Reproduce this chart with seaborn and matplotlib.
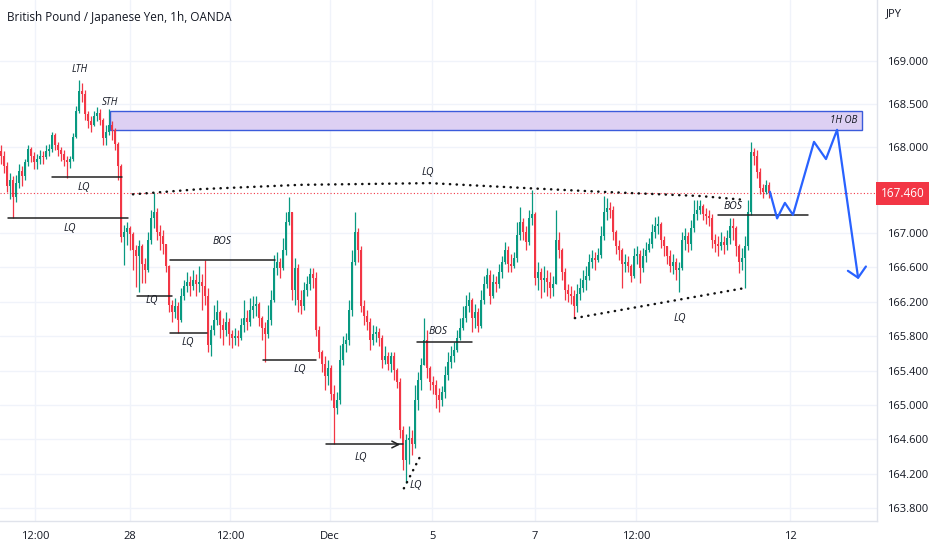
import numpy as np
import matplotlib.pyplot as plt
import matplotlib.transforms as mtransforms
import seaborn as sns

# GBP/JPY 1h candles (close / high / low), open = previous close
first_open = 167.95
close = [
    167.90, 167.78, 167.55, 167.62, 167.42, 167.58, 167.72, 167.66, 167.82, 167.98,
    167.90, 167.82, 167.86, 167.90, 167.88, 167.95, 167.98, 168.14, 168.02, 167.97,
    167.92, 167.85, 167.82, 167.86, 168.12, 168.42, 168.65, 168.62, 168.38, 168.30,
    168.26, 168.36, 168.40, 168.32, 168.10, 168.18, 168.26, 168.20, 168.04, 167.78,
    166.95,
    167.01, 167.06, 166.99, 166.80, 166.73, 166.85, 166.64, 166.57, 166.92, 167.17,
    167.24, 167.01, 166.97, 166.87, 166.62, 166.16, 166.08, 166.15, 165.99, 166.27,
    166.38, 166.43, 166.38, 166.45, 166.41, 166.43, 166.38, 166.27, 165.70, 165.87,
    165.99, 166.08, 165.93, 165.87, 165.97, 165.83, 165.78, 165.80, 165.78, 165.93,
    166.01, 165.97, 166.10, 166.15, 166.17, 166.01, 165.90, 165.83, 165.99, 166.22,
    166.59, 166.66, 166.59, 166.80, 167.13, 167.24, 166.34, 166.59, 166.22, 166.15,
    166.34, 166.41, 166.52, 166.48, 165.87, 165.62, 165.48, 165.34, 165.43, 165.13,
    164.97, 165.06, 165.52, 165.71, 165.76, 166.10, 166.66, 167.01, 166.80, 166.15,
    166.04, 165.97, 165.76, 165.83, 165.85, 165.78, 165.52, 165.57, 165.48, 165.57,
    165.41, 165.27, 164.71, 164.36, 164.59, 164.62, 164.55, 165.06, 165.29, 165.47,
    165.76, 165.43, 165.27, 165.23, 165.12, 165.06, 165.15, 165.35, 165.50, 165.57,
    165.64, 165.78, 165.90, 166.01, 166.15, 166.22, 166.01, 166.08, 165.92, 166.22,
    166.41, 166.51, 166.27, 166.43, 166.41, 166.55, 166.66, 166.80, 166.64, 166.62,
    166.71, 166.98, 167.13, 167.01, 166.90, 167.17, 167.22, 166.48, 166.55, 166.45,
    166.48, 166.43, 166.36, 166.41, 166.92, 166.80, 166.55, 166.34, 166.29, 166.27,
    166.15, 166.29, 166.36, 166.45, 166.50, 166.66, 166.71, 166.69, 166.74, 166.97,
    167.24, 167.29, 167.27, 167.01, 166.85, 166.80, 166.64, 166.66, 166.62, 166.50,
    166.73, 166.76, 166.59, 166.73, 166.80, 166.87, 167.01, 167.08, 167.10, 166.92,
    166.85, 166.73, 166.62, 166.66, 166.57, 166.59, 166.92, 166.97, 166.87, 167.06,
    167.22, 167.27, 167.31, 167.22, 167.20, 167.17, 166.92, 166.87, 166.85, 166.90,
    166.86, 166.94, 167.08, 167.06, 166.85, 166.66, 166.71, 166.85, 167.24, 167.94,
    167.90, 167.71, 167.52, 167.48, 167.56, 167.46,
]
high = [
    168.02, 167.95, 167.82, 167.70, 167.66, 167.68, 167.80, 167.78, 167.86, 168.02,
    168.00, 167.94, 167.92, 167.96, 167.95, 168.02, 168.04, 168.18, 168.16, 168.06,
    168.00, 167.96, 167.90, 167.90, 168.16, 168.48, 168.78, 168.75, 168.66, 168.42,
    168.36, 168.42, 168.46, 168.44, 168.34, 168.26, 168.44, 168.30, 168.22, 168.06,
    167.80,
    167.09, 167.13, 167.08, 167.01, 166.86, 166.92, 166.87, 166.71, 167.01, 167.27,
    167.47, 167.29, 167.09, 167.04, 166.87, 166.63, 166.22, 166.24, 166.20, 166.36,
    166.45, 166.55, 166.50, 166.57, 166.52, 166.62, 166.52, 166.69, 166.36, 165.93,
    166.16, 166.22, 166.10, 166.01, 166.08, 166.01, 165.87, 165.90, 165.87, 166.01,
    166.22, 166.10, 166.24, 166.27, 166.27, 166.20, 166.04, 165.97, 166.16, 166.34,
    166.74, 166.78, 166.71, 166.94, 167.24, 167.42, 167.22, 166.71, 166.64, 166.34,
    166.43, 166.50, 166.59, 166.59, 166.55, 165.92, 165.64, 165.57, 165.52, 165.47,
    165.23, 165.15, 165.70, 165.80, 165.84, 166.22, 166.80, 167.24, 167.06, 166.85,
    166.22, 166.10, 166.01, 165.93, 165.92, 165.90, 165.81, 165.69, 165.62, 165.62,
    165.62, 165.43, 165.31, 164.76, 164.66, 164.76, 164.71, 165.23, 165.38, 165.55,
    166.01, 165.87, 165.45, 165.34, 165.29, 165.20, 165.22, 165.45, 165.62, 165.69,
    165.73, 165.87, 166.01, 166.15, 166.28, 166.31, 166.24, 166.17, 166.13, 166.34,
    166.50, 166.59, 166.57, 166.52, 166.50, 166.64, 166.73, 166.90, 166.85, 166.76,
    166.78, 167.13, 167.30, 167.17, 167.08, 167.27, 167.50, 167.24, 166.66, 166.59,
    166.62, 166.57, 166.55, 166.50, 167.27, 167.01, 166.83, 166.59, 166.41, 166.38,
    166.34, 166.41, 166.48, 166.57, 166.62, 166.76, 166.80, 166.78, 166.83, 167.08,
    167.43, 167.41, 167.36, 167.31, 167.04, 166.92, 166.83, 166.76, 166.73, 166.64,
    166.83, 166.85, 166.80, 166.83, 166.90, 166.94, 167.10, 167.19, 167.20, 167.13,
    166.97, 166.85, 166.80, 166.76, 166.71, 166.66, 167.01, 167.06, 167.01, 167.15,
    167.38, 167.38, 167.38, 167.34, 167.29, 167.27, 167.22, 166.99, 166.97, 167.01,
    166.97, 167.04, 167.17, 167.17, 167.08, 166.87, 166.83, 166.97, 167.38, 168.06,
    167.99, 167.97, 167.76, 167.57, 167.62, 167.59,
]
low = [
    167.80, 167.70, 167.48, 167.40, 167.17, 167.36, 167.52, 167.55, 167.62, 167.78,
    167.82, 167.74, 167.74, 167.80, 167.80, 167.86, 167.90, 167.94, 167.96, 167.90,
    167.84, 167.78, 167.64, 167.76, 167.84, 168.10, 168.40, 168.52, 168.32, 168.22,
    168.18, 168.24, 168.30, 168.26, 168.02, 168.02, 168.14, 168.08, 167.96, 167.62,
    166.90,
    166.63, 166.86, 166.80, 166.57, 166.37, 166.31, 166.42, 166.42, 166.55, 166.87,
    167.06, 166.92, 166.80, 166.76, 166.55, 166.08, 165.97, 166.01, 165.84, 165.97,
    166.22, 166.31, 166.27, 166.34, 166.27, 166.31, 166.10, 166.16, 165.62, 165.57,
    165.81, 165.93, 165.78, 165.70, 165.80, 165.70, 165.66, 165.70, 165.69, 165.76,
    165.85, 165.87, 165.92, 166.01, 166.04, 165.92, 165.76, 165.50, 165.78, 165.93,
    166.20, 166.51, 166.48, 166.57, 166.74, 167.09, 166.22, 166.16, 166.08, 166.06,
    166.10, 166.27, 166.34, 166.36, 165.80, 165.55, 165.38, 165.17, 165.23, 165.06,
    164.54, 164.90, 165.01, 165.47, 165.62, 165.70, 166.04, 166.63, 166.66, 166.08,
    165.93, 165.87, 165.64, 165.70, 165.73, 165.69, 165.43, 165.48, 165.41, 165.38,
    165.29, 165.20, 164.62, 164.24, 164.09, 164.31, 164.42, 164.50, 164.94, 165.17,
    165.47, 165.31, 165.17, 165.13, 164.97, 164.92, 164.99, 165.08, 165.29, 165.43,
    165.50, 165.62, 165.76, 165.87, 165.97, 166.08, 165.85, 165.90, 165.85, 165.90,
    166.17, 166.36, 166.17, 166.24, 166.31, 166.36, 166.48, 166.64, 166.55, 166.55,
    166.59, 166.66, 166.92, 166.92, 166.80, 166.86, 167.09, 166.40, 166.34, 166.24,
    166.31, 166.27, 166.24, 166.27, 166.41, 166.71, 166.45, 166.22, 166.20, 166.17,
    166.01, 166.08, 166.22, 166.31, 166.34, 166.45, 166.59, 166.57, 166.66, 166.71,
    166.92, 167.15, 167.17, 166.92, 166.76, 166.69, 166.36, 166.55, 166.55, 166.43,
    166.48, 166.64, 166.42, 166.55, 166.66, 166.78, 166.83, 166.94, 166.99, 166.83,
    166.73, 166.64, 166.55, 166.52, 166.45, 166.31, 166.57, 166.80, 166.78, 166.80,
    167.01, 167.15, 167.22, 167.15, 167.10, 167.08, 166.83, 166.78, 166.73, 166.80,
    166.76, 166.80, 166.87, 166.92, 166.73, 166.54, 166.57, 166.36, 166.80, 167.21,
    167.79, 167.64, 167.45, 167.41, 167.45, 167.41,
]
assert len(close) == len(high) == len(low)

last_price = 167.46
x_tick_pos = [11.3, 43.0, 76.3, 109.7, 143.7, 178.0, 211.7, 263.0]
x_tick_labels = ["12:00", "28", "12:00", "Dec", "5", "7", "12:00", "12"]
y_ticks = [169.0, 168.5, 168.0, 167.0, 166.6, 166.2, 165.8, 165.4, 165.0, 164.6, 164.2, 163.8]

# marked levels: (start, end, price, label, label x, label y)
levels = [
    (17.0, 40.3, 167.65, "LQ", 27.7, 167.53),
    (2.3, 42.3, 167.17, "LQ", 23.0, 167.05),
    (45.3, 57.0, 166.27, "LQ", 50.3, 166.21),
    (56.3, 91.3, 166.69, "BOS", 73.7, 166.90),
    (56.3, 68.7, 165.84, "LQ", 62.3, 165.73),
    (87.3, 105.0, 165.52, "LQ", 99.7, 165.41),
    (108.3, 134.0, 164.54, "LQ", 120.0, 164.39),
    (138.7, 157.0, 165.73, "BOS", 145.7, 165.85),
    (239.0, 269.0, 167.21, "BOS", 244.0, 167.31),
]
arc_x = [44.0, 66.3, 99.7, 143.0, 176.3, 199.7, 233.0, 246.3]
arc_y = [167.45, 167.51, 167.56, 167.58, 167.52, 167.48, 167.43, 167.39]
low_dots_x = [191.3, 248.0]
low_dots_y = [166.01, 166.36]
bottom_dots_x = [134.3, 140.0]
bottom_dots_y = [164.03, 164.42]
ob_range = (36.3, 287.0, 168.20, 168.42)
path_x = [256.3, 258.7, 261.3, 264.0, 271.0, 275.0, 278.7, 285.7]
path_y = [167.48, 167.17, 167.35, 167.21, 168.06, 167.86, 168.20, 166.48]
arrow_x = [282.3, 285.7, 288.3]
arrow_y = [166.56, 166.48, 166.61]

sns.set_theme(style="white")
plt.rcParams['font.family'] = ['Open Sans', 'DejaVu Sans']

UP = "#089981"
DOWN = "#f23645"
TXT = "#131722"

fig = plt.figure(figsize=(9.32, 5.5), dpi=100)
ax = fig.add_axes([0, 29 / 550, 877 / 932, 521 / 550])

idx = np.arange(len(close))
c = np.array(close)
o = np.concatenate([[first_open], c[:-1]])
h = np.maximum(np.array(high), np.maximum(o, c))
l = np.minimum(np.array(low), np.minimum(o, c))
colors = np.where(c >= o, UP, DOWN)

# grid
for xv in x_tick_pos:
    ax.axvline(xv, color="#f0f3fa", lw=1, zorder=0)
for yv in y_ticks:
    ax.axhline(yv, color="#f0f3fa", lw=1, zorder=0)

# order block
x0, x1, y0, y1 = ob_range
ax.add_patch(plt.Rectangle((x0, y0), x1 - x0, y1 - y0, facecolor="#ddd0f3",
                           edgecolor="#3b5bdb", lw=1.0, zorder=1))
ax.text(x1 - 6, (y0 + y1) / 2, "1H OB", fontsize=7, style="italic",
        ha="center", va="center", color=TXT, zorder=5)

# candles
ax.vlines(idx, l, h, colors=colors, lw=0.9, zorder=2)
ax.bar(idx, np.maximum(np.abs(c - o), 0.012), bottom=np.minimum(o, c),
       width=0.7, color=colors, linewidth=0, zorder=3)

# last price line
ax.axhline(last_price, color=DOWN, lw=0.8, ls=(0, (1, 2)), zorder=1)

# levels
for xa, xb, yv, lab, lx, ly in levels:
    ax.plot([xa, xb], [yv, yv], color="#222222", lw=1.1, zorder=4)
    ax.text(lx, ly, lab, fontsize=7.5, style="italic", ha="center", va="center",
            color=TXT, zorder=5)
ax.annotate("", xy=(134.0, 164.54), xytext=(131.0, 164.54),
            arrowprops=dict(arrowstyle="->", color="#222222", lw=1.1), zorder=4)

dot = dict(color="#111111", lw=1.8, ls=(0, (0.1, 2.6)), dash_capstyle="round", zorder=4)
ax.plot(arc_x, arc_y, **dot)
ax.plot(low_dots_x, low_dots_y, **dot)
ax.plot(bottom_dots_x, bottom_dots_y, **dot)
ax.text(142.3, 167.70, "LQ", fontsize=7.5, style="italic", ha="center", va="center", color=TXT)
ax.text(226.3, 166.01, "LQ", fontsize=7.5, style="italic", ha="center", va="center", color=TXT)
ax.text(138.3, 164.06, "LQ", fontsize=7.5, style="italic", ha="center", va="center", color=TXT)
ax.text(26.3, 168.90, "LTH", fontsize=7, style="italic", ha="center", va="center", color=TXT)
ax.text(36.3, 168.52, "STH", fontsize=7, style="italic", ha="center", va="center", color=TXT)

# projection
sns.lineplot(x=path_x, y=path_y, sort=False, color="#2962ff", lw=1.6, ax=ax, zorder=6)
sns.lineplot(x=arrow_x, y=arrow_y, sort=False, color="#2962ff", lw=1.6, ax=ax, zorder=6)

# axes
ax.set_xlim(-0.33, 292.0)
ax.set_ylim(163.65, 169.71)
ax.yaxis.tick_right()
ax.set_yticks(y_ticks)
ax.set_yticklabels([f"{v:.3f}" for v in y_ticks])
ax.set_xticks(x_tick_pos)
ax.set_xticklabels(x_tick_labels)
ax.tick_params(axis="y", length=0, pad=7, labelsize=8, labelcolor=TXT)
ax.tick_params(axis="x", length=0, pad=7, labelsize=8, labelcolor=TXT)
ax.set_xlabel("")
ax.set_ylabel("")
for side in ["top", "left"]:
    ax.spines[side].set_visible(False)
for side in ["right", "bottom"]:
    ax.spines[side].set_color("#e0e3eb")
    ax.spines[side].set_linewidth(1)

trans = mtransforms.blended_transform_factory(ax.transAxes, ax.transData)
ax.text(1.004, last_price, f"{last_price:.3f}", transform=trans, ha="left", va="center",
        fontsize=8.5, color="white", clip_on=False,
        bbox=dict(boxstyle="square,pad=0.4", fc=DOWN, ec="none"))

fig.text(7 / 932, 1 - 17 / 550, "British Pound / Japanese Yen, 1h, OANDA",
         fontsize=8.5, color=TXT, va="center", ha="left")
fig.text(886 / 932, 1 - 14 / 550, "JPY", fontsize=8, color=TXT, va="center", ha="left")

fig.savefig("out.png", dpi=100, facecolor="white")
